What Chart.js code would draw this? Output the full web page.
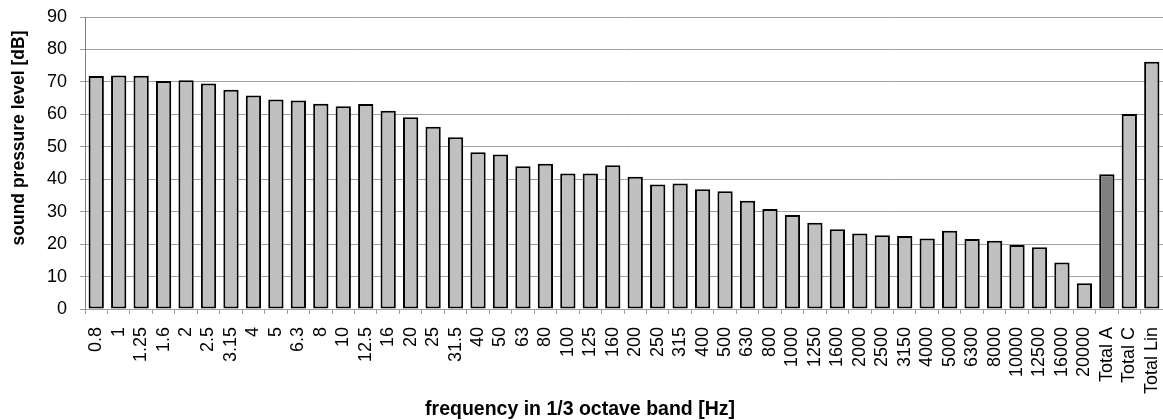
<!DOCTYPE html>
<html>
<head>
<meta charset="utf-8">
<script src="https://cdn.jsdelivr.net/npm/chart.js@4/dist/chart.umd.min.js"></script>
<style>
  html, body { margin: 0; padding: 0; background: #fff; }
  #wrap { width: 1163px; height: 420px; position: relative; }
</style>
</head>
<body>
<div id="wrap"><canvas id="chart"></canvas></div>
<script>
// 1/3 octave band levels
const bands = ["0.8", "1", "1.25", "1.6", "2", "2.5", "3.15", "4", "5", "6.3", "8", "10", "12.5", "16",
  "20", "25", "31.5", "40", "50", "63", "80", "100", "125", "160", "200", "250", "315", "400", "500",
  "630", "800", "1000", "1250", "1600", "2000", "2500", "3150", "4000", "5000", "6300", "8000",
  "10000", "12500", "16000", "20000", "Total A", "Total C", "Total Lin"];

const levels = [71.8, 72.0, 71.9, 70.3, 70.5, 69.5, 67.6, 65.8, 64.6, 64.3, 63.3, 62.5, 63.2, 61.1,
  59.1, 56.2, 52.9, 48.3, 47.6, 44.0, 44.8, 41.8, 41.8, 44.3, 40.8, 38.4, 38.7, 36.9, 36.3,
  33.4, 30.8, 29.0, 26.6, 24.6, 23.3, 22.7, 22.5, 21.7, 24.1, 21.6, 21.0,
  19.7, 19.0, 14.3, 7.9, 41.5, 60.1, 76.2];

const yTicks = [0, 10, 20, 30, 40, 50, 60, 70, 80, 90];

const FONT = "'Liberation Sans', Arial, sans-serif";

// axis titles sit off the plot centre in the original, so draw them by hand
const axisTitles = {
  id: "axisTitles",
  afterDraw(chart) {
    const ctx = chart.ctx;
    ctx.save();
    ctx.fillStyle = "#000";
    ctx.textAlign = "center";
    ctx.textBaseline = "middle";
    ctx.font = "bold 19.5px " + FONT;
    ctx.fillText("frequency in 1/3 octave band [Hz]", 580, 410);
    ctx.translate(19, 138);
    ctx.rotate(-Math.PI / 2);
    ctx.font = "bold 17.5px " + FONT;
    ctx.fillText("sound pressure level [dB]", 0, 0);
    ctx.restore();
  }
};

new Chart(document.getElementById("chart"), {
  type: "bar",
  data: {
    labels: bands,
    datasets: [{
      data: levels,
      backgroundColor: bands.map((b) => (b === "Total A" ? "#808080" : "#c0c0c0")),
      borderColor: "#000",
      borderWidth: 2,
      borderSkipped: false,
      barPercentage: 0.68,
      categoryPercentage: 1
    }]
  },
  options: {
    responsive: true,
    maintainAspectRatio: false,
    animation: false,
    layout: { padding: { top: 17, right: 0, left: 0, bottom: 0 } },
    plugins: { legend: { display: false }, tooltip: { enabled: false } },
    scales: {
      x: {
        grid: {
          display: true,
          offset: true,
          drawOnChartArea: false,
          color: "#a0a0a0",
          tickLength: 5
        },
        border: { display: true, color: "#a0a0a0" },
        ticks: {
          autoSkip: false,
          minRotation: 90,
          maxRotation: 90,
          padding: 13,
          color: "#000",
          font: { family: FONT, size: 18 }
        },
        afterFit: (s) => {
          s.height = 111;
          s.paddingLeft = 0;
          s.paddingRight = 0;
        }
      },
      y: {
        min: 0,
        max: 90,
        afterBuildTicks: (s) => { s.ticks = yTicks.map((v) => ({ value: v })); },
        grid: { color: "#a0a0a0", tickLength: 5 },
        border: { display: true, color: "#808080" },
        ticks: {
          padding: 13,
          color: "#000",
          font: { family: FONT, size: 18 }
        },
        afterFit: (s) => {
          s.width = 85;
          s.paddingTop = 0;
          s.paddingBottom = 0;
        }
      }
    }
  },
  plugins: [axisTitles]
});
</script>
</body>
</html>
